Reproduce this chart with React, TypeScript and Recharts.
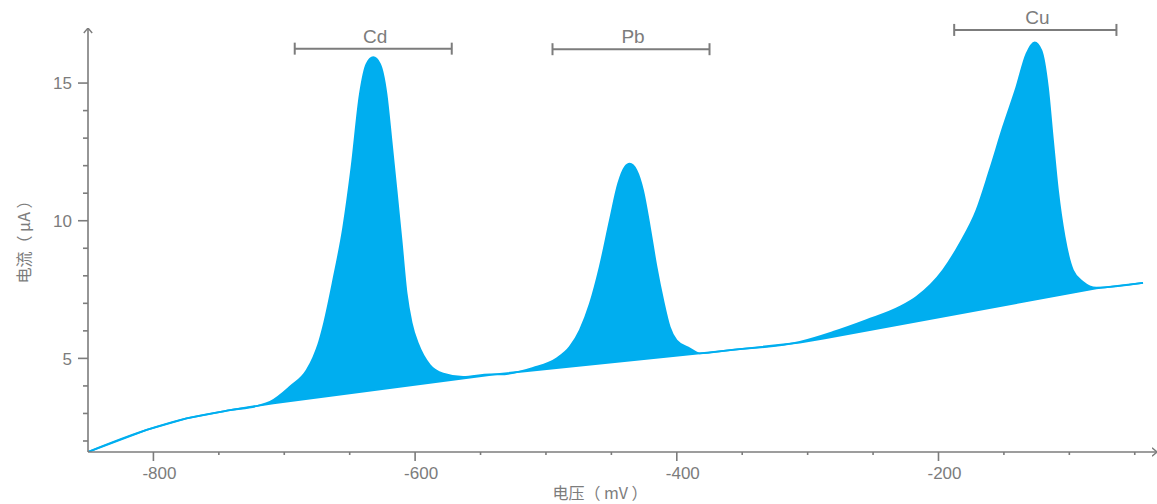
import React from 'react';
import { ComposedChart, Area, Line, XAxis, YAxis, ReferenceLine } from 'recharts';

// Stripping voltammogram: potential (mV) vs current (μA)
const curveX = [-850, -805.2, -774.7, -741.5, -720, -710.9, -695.7, -682.9, -677.7, -674.1, -670.3, -662.6, -654.9, -648.6, -642.2, -637.1, -632.0, -626.9, -621.9, -618.1, -614.2, -610.4, -606.5, -602.7, -597.6, -588.7, -578.5, -563.3, -542.9, -535.2, -509.8, -491.9, -481.8, -474.1, -466.4, -458.9, -451.2, -444.8, -439.7, -436.0, -430.8, -425.8, -420.6, -415.5, -410.4, -405.4, -400.2, -390.0, -382.5, -359.5, -306.0, -280.5, -255.0, -229.6, -216.9, -196.6, -183.8, -171.0, -160.9, -150.7, -140.5, -132.8, -126.5, -121.3, -116.4, -112.5, -108.7, -103.6, -97.2, -89.6, -79.4, -43.7];
const curveY = [1.60, 2.40, 2.82, 3.12, 3.28, 3.42, 3.97, 4.57, 5.05, 5.49, 6.14, 7.84, 9.77, 11.95, 14.61, 15.70, 15.94, 15.70, 14.61, 12.92, 11.10, 9.29, 7.36, 6.30, 5.52, 4.76, 4.45, 4.33, 4.42, 4.42, 4.66, 5.00, 5.42, 6.03, 6.99, 8.32, 10.01, 11.35, 11.95, 12.07, 11.83, 11.10, 9.77, 8.32, 7.11, 6.14, 5.66, 5.36, 5.18, 5.30, 5.60, 5.96, 6.39, 6.87, 7.23, 8.20, 9.17, 10.38, 11.83, 13.40, 14.85, 16.06, 16.48, 16.18, 14.85, 12.92, 11.10, 9.41, 8.20, 7.78, 7.57, 7.74];

const baseX = [-850, -805.2, -774.7, -741.5, -708.4, -539.1, -382.5, -306.0, -286.9, -79.4, -43.7];
const baseY = [1.60, 2.40, 2.82, 3.12, 3.37, 4.42, 5.18, 5.57, 5.73, 7.54, 7.74];

const xTicks = [-800, -750, -700, -650, -600, -550, -500, -450, -400, -350, -300, -250, -200, -150, -100, -50];
const xLabelTicks = [-800, -600, -400, -200];
const yTicks = [2, 3, 4, 5, 6, 7, 8, 9, 10, 11, 12, 13, 14, 15];
const yLabelTicks = [5, 10, 15];

const peakNames = ['Cd', 'Pb', 'Cu'];
const peakFrom = [-692, -495, -188];
const peakTo = [-572, -375, -64];
const peakLevel = [16.25, 16.23, 16.93];

const curveData = curveX.map((x, i) => ({ x, y: curveY[i] }));
const baseData = baseX.map((x, i) => ({ x, y: baseY[i] }));

const BLUE = '#00AEEF';
const GREY = '#7c7c7c';
const TICK_FONT = '"Liberation Sans", Arial, Helvetica, sans-serif';
const CJK_FONT = '"Noto Sans CJK SC", "Noto Sans", sans-serif';

const X_TICK_SIZE = 9;
const X_TICK_MARGIN = 6;
const Y_TICK_SIZE = 10;
const Y_TICK_MARGIN = 6;

const XTick = (props: any) => {
  const { x, y, payload } = props;
  const axisY = y - X_TICK_SIZE - X_TICK_MARGIN;
  const major = xLabelTicks.includes(payload.value);
  return (
    <g>
      <line x1={x} x2={x} y1={axisY} y2={axisY + (major ? 9 : 3)} stroke={GREY} strokeWidth={1.6} />
      {major && (
        <text x={x + 6} y={y} dy="0.71em" textAnchor="middle" fill={GREY} fontSize={17} fontFamily={TICK_FONT}>
          {String(payload.value)}
        </text>
      )}
    </g>
  );
};

const YTick = (props: any) => {
  const { x, y, payload } = props;
  const axisX = x + Y_TICK_SIZE + Y_TICK_MARGIN;
  const major = yLabelTicks.includes(payload.value);
  return (
    <g>
      <line x1={axisX - (major ? 10 : 5)} x2={axisX} y1={y} y2={y} stroke={GREY} strokeWidth={1.6} />
      {major && (
        <text x={x} y={y} dy="0.36em" textAnchor="end" fill={GREY} fontSize={17} fontFamily={TICK_FONT}>
          {String(payload.value)}
        </text>
      )}
    </g>
  );
};

const makeBracket = (name: string) => (p: any) => {
  const { x1, y1, x2, y2 } = p;
  return (
    <g>
      <line x1={x1} y1={y1} x2={x2} y2={y2} stroke={GREY} strokeWidth={2} />
      <line x1={x1} y1={y1 - 6} x2={x1} y2={y1 + 6} stroke={GREY} strokeWidth={2} />
      <line x1={x2} y1={y2 - 6} x2={x2} y2={y2 + 6} stroke={GREY} strokeWidth={2} />
      <text x={(x1 + x2) / 2 + 2} y={y1 - 6} textAnchor="middle" fill={GREY} fontSize={19} fontFamily={TICK_FONT}>
        {name}
      </text>
    </g>
  );
};

const YTitle = (props: any) => {
  const vb = props.viewBox || {};
  const cx = vb.x + 23;
  const cy = vb.y + vb.height / 2 - 2;
  return (
    <text x={cx} y={cy} transform={`rotate(-90 ${cx} ${cy})`} textAnchor="middle" dominantBaseline="central" fill={GREY} fontSize={16} fontFamily={CJK_FONT}>
      电流（ μA ）
    </text>
  );
};

const XTitle = (props: any) => {
  const vb = props.viewBox || {};
  const cx = vb.x + vb.width * 0.479;
  const cy = vb.y + 40;
  return (
    <text x={cx} y={cy} textAnchor="middle" dominantBaseline="central" fill={GREY} fontSize={16} fontFamily={CJK_FONT}>
      电压（ mV ）
    </text>
  );
};

export default function App() {
  return (
    <div style={{ position: 'absolute', left: 0, top: 0, width: 1157, height: 504, background: '#fff' }}>
      <svg width={0} height={0} style={{ position: 'absolute' }}>
        <defs>
          <marker id="axArrow" viewBox="0 0 6 10" refX={5.5} refY={5} markerWidth={6} markerHeight={10} markerUnits="userSpaceOnUse" orient="auto-start-reverse">
            <path d="M0.5,0.8 L5.5,5 L0.5,9.2" fill="none" stroke={GREY} strokeWidth={1.4} />
          </marker>
        </defs>
      </svg>
      <ComposedChart width={1157} height={504} margin={{ top: 28, right: 0, left: 0, bottom: 22 }}>
        <Area data={curveData} dataKey="y" type="monotone" fill={BLUE} fillOpacity={1} stroke="none" baseValue="dataMin" isAnimationActive={false} />
        <Area data={baseData} dataKey="y" type="linear" fill="#ffffff" fillOpacity={1} stroke="none" baseValue="dataMin" isAnimationActive={false} />
        <Line data={baseData} dataKey="y" type="linear" stroke={BLUE} strokeWidth={1.8} dot={false} activeDot={false} isAnimationActive={false} />
        <Line data={curveData} dataKey="y" type="monotone" stroke={BLUE} strokeWidth={1.8} dot={false} activeDot={false} isAnimationActive={false} />
        {peakNames.map((name, i) => (
          <ReferenceLine
            key={name}
            segment={[{ x: peakFrom[i], y: peakLevel[i] }, { x: peakTo[i], y: peakLevel[i] }]}
            ifOverflow="visible"
            shape={makeBracket(name)}
          />
        ))}
        <XAxis
          type="number"
          dataKey="x"
          domain={[-850, -33]}
          allowDataOverflow
          ticks={xTicks}
          interval={0}
          tickLine={false}
          tickSize={X_TICK_SIZE}
          tickMargin={X_TICK_MARGIN}
          tick={<XTick />}
          height={30}
          axisLine={{ stroke: GREY, strokeWidth: 1.6, markerEnd: 'url(#axArrow)' } as any}
          label={<XTitle />}
        />
        <YAxis
          type="number"
          domain={[1.6, 17]}
          allowDataOverflow
          ticks={yTicks}
          interval={0}
          tickLine={false}
          tickSize={Y_TICK_SIZE}
          tickMargin={Y_TICK_MARGIN}
          tick={<YTick />}
          width={88}
          axisLine={{ stroke: GREY, strokeWidth: 1.6, markerStart: 'url(#axArrow)' } as any}
          label={<YTitle />}
        />
      </ComposedChart>
    </div>
  );
}
